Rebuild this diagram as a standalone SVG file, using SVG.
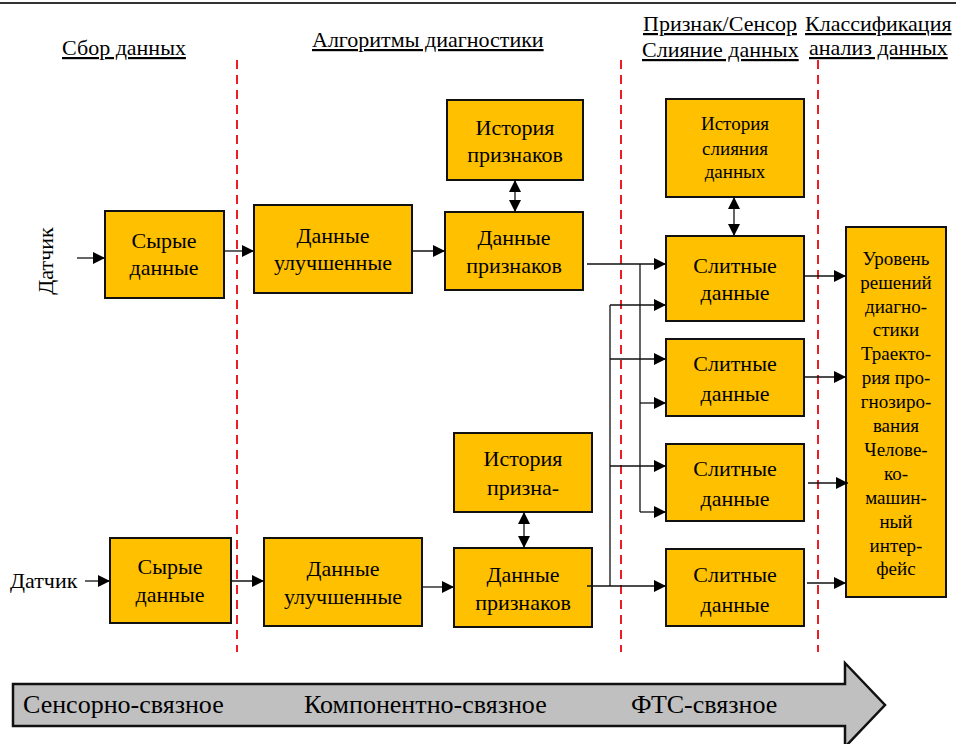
<svg xmlns="http://www.w3.org/2000/svg" width="956" height="744" viewBox="0 0 956 744">
  <style>
    .box { fill: #FFC000; stroke: #111; stroke-width: 2; }
    .t { font-family: "Liberation Serif", "Times New Roman", serif; fill: #000; text-anchor: middle; }
    .t20 { font-size: 22px; }
    .t17 { font-size: 19px; }
    .td { font-size: 19px; }
    .hdr { font-family: "Liberation Serif", "Times New Roman", serif; font-size: 22px; fill: #000; text-decoration: underline; }
    .band { font-family: "Liberation Serif", "Times New Roman", serif; font-size: 26px; fill: #000; }
    .conn { stroke: #111; stroke-width: 1.3; fill: none; }
    .sep { stroke: #ee1c24; stroke-width: 2; stroke-dasharray: 9 6; fill: none; }
  </style>
  <defs>
    <marker id="ah" viewBox="0 0 12 12" refX="12" refY="6" markerWidth="12" markerHeight="12" markerUnits="userSpaceOnUse" orient="auto-start-reverse">
      <path d="M0,0 L12,6 L0,12 z" fill="#000"/>
    </marker>
  </defs>
  <rect width="956" height="744" fill="#fff"/>
  <line x1="0" y1="3" x2="956" y2="3" stroke="#333" stroke-width="2"/>

  <!-- column headers -->
  <g id="headers">
    <text class="hdr" x="62" y="55">Сбор данных</text>
    <text class="hdr" x="312" y="47">Алгоритмы диагностики</text>
    <text class="hdr" x="643" y="31">Признак/Сенсор</text>
    <text class="hdr" x="642" y="57">Слияние данных</text>
    <text class="hdr" x="805" y="31">Классификация</text>
    <text class="hdr" x="809" y="55">анализ данных</text>
  </g>

  <!-- stage separators -->
  <g id="separators">
    <line class="sep" x1="237" y1="60" x2="237" y2="652"/>
    <line class="sep" x1="621" y1="60" x2="621" y2="652"/>
    <line class="sep" x1="818" y1="60" x2="818" y2="652"/>
  </g>

  <!-- sensor labels -->
  <text class="t t20" transform="translate(53,261) rotate(-90)">Датчик</text>
  <text class="t20" x="10" y="588" font-family="Liberation Serif, serif">Датчик</text>

  <!-- upper chain -->
  <g id="raw1"><rect class="box" x="105" y="211" width="119" height="87"/>
    <text class="t t20" x="164" y="248">Сырые</text><text class="t t20" x="164" y="275">данные</text></g>
  <g id="enh1"><rect class="box" x="254" y="205" width="158" height="88"/>
    <text class="t t20" x="333" y="243">Данные</text><text class="t t20" x="333" y="270">улучшенные</text></g>
  <g id="hist1"><rect class="box" x="447" y="100" width="136" height="80"/>
    <text class="t t20" x="515" y="135">История</text><text class="t t20" x="515" y="162">признаков</text></g>
  <g id="feat1"><rect class="box" x="445" y="212" width="138" height="78"/>
    <text class="t t20" x="514" y="245">Данные</text><text class="t t20" x="514" y="273">признаков</text></g>

  <!-- lower chain -->
  <g id="raw2"><rect class="box" x="110" y="538" width="121" height="85"/>
    <text class="t t20" x="170" y="574">Сырые</text><text class="t t20" x="170" y="602">данные</text></g>
  <g id="enh2"><rect class="box" x="264" y="538" width="158" height="88"/>
    <text class="t t20" x="343" y="576">Данные</text><text class="t t20" x="343" y="604">улучшенные</text></g>
  <g id="hist2"><rect class="box" x="454" y="433" width="138" height="79"/>
    <text class="t t20" x="523" y="466">История</text><text class="t t20" x="523" y="495">призна-</text></g>
  <g id="feat2"><rect class="box" x="454" y="548" width="138" height="79"/>
    <text class="t t20" x="523" y="582">Данные</text><text class="t t20" x="523" y="610">признаков</text></g>

  <!-- fusion -->
  <g id="fhist"><rect class="box" x="666" y="99" width="138" height="98"/>
    <text class="t t17" x="735" y="130">История</text><text class="t t17" x="735" y="155">слияния</text><text class="t t17" x="735" y="178">данных</text></g>
  <g id="fus1"><rect class="box" x="666" y="236" width="138" height="85"/>
    <text class="t t20" x="735" y="273">Слитные</text><text class="t t20" x="735" y="300">данные</text></g>
  <g id="fus2"><rect class="box" x="666" y="339" width="138" height="77"/>
    <text class="t t20" x="735" y="371">Слитные</text><text class="t t20" x="735" y="401">данные</text></g>
  <g id="fus3"><rect class="box" x="666" y="444" width="138" height="77"/>
    <text class="t t20" x="735" y="476">Слитные</text><text class="t t20" x="735" y="506">данные</text></g>
  <g id="fus4"><rect class="box" x="666" y="549" width="138" height="77"/>
    <text class="t t20" x="735" y="582">Слитные</text><text class="t t20" x="735" y="612">данные</text></g>

  <!-- decision level -->
  <g id="decision"><rect class="box" x="846" y="227" width="100" height="370"/>
    <g class="t td">
      <text x="896" y="265">Уровень</text><text x="896" y="289">решений</text><text x="896" y="313">диагно-</text>
      <text x="896" y="336">стики</text><text x="896" y="360">Траекто-</text><text x="896" y="384">рия про-</text>
      <text x="896" y="408">гнозиро-</text><text x="896" y="432">вания</text><text x="896" y="456">Челове-</text>
      <text x="896" y="480">ко-</text><text x="896" y="504">машин-</text><text x="896" y="528">ный</text>
      <text x="896" y="552">интер-</text><text x="896" y="575">фейс</text>
    </g>
  </g>

  <!-- connectors -->
  <g id="connectors" class="conn">
    <line x1="77" y1="258" x2="105" y2="258" marker-end="url(#ah)"/>
    <line x1="224" y1="251" x2="254" y2="251" marker-end="url(#ah)"/>
    <line x1="412" y1="251" x2="445" y2="251" marker-end="url(#ah)"/>
    <line x1="515" y1="180" x2="515" y2="212" marker-start="url(#ah)" marker-end="url(#ah)"/>

    <line x1="85" y1="581" x2="110" y2="581" marker-end="url(#ah)"/>
    <line x1="231" y1="581" x2="264" y2="581" marker-end="url(#ah)"/>
    <line x1="422" y1="587" x2="454" y2="587" marker-end="url(#ah)"/>
    <line x1="524" y1="512" x2="524" y2="548" marker-start="url(#ah)" marker-end="url(#ah)"/>

    <line x1="734" y1="197" x2="734" y2="236" marker-start="url(#ah)" marker-end="url(#ah)"/>

    <!-- upper feature bus -->
    <line x1="587" y1="264" x2="666" y2="264" marker-end="url(#ah)"/>
    <line x1="640" y1="264" x2="640" y2="512"/>
    <line x1="640" y1="403" x2="666" y2="403" marker-end="url(#ah)"/>
    <line x1="640" y1="512" x2="666" y2="512" marker-end="url(#ah)"/>

    <!-- lower feature bus -->
    <line x1="587" y1="586" x2="666" y2="586" marker-end="url(#ah)"/>
    <line x1="610" y1="305" x2="610" y2="586"/>
    <line x1="610" y1="305" x2="666" y2="305" marker-end="url(#ah)"/>
    <line x1="610" y1="359" x2="666" y2="359" marker-end="url(#ah)"/>
    <line x1="610" y1="466" x2="666" y2="466" marker-end="url(#ah)"/>

    <line x1="804" y1="276" x2="846" y2="276" marker-end="url(#ah)"/>
    <line x1="804" y1="377" x2="846" y2="377" marker-end="url(#ah)"/>
    <line x1="808" y1="483" x2="848" y2="483" marker-end="url(#ah)"/>
    <line x1="807" y1="583" x2="846" y2="583" marker-end="url(#ah)"/>
  </g>

  <!-- integration band -->
  <g id="band">
    <polygon points="13,684 845,684 845,663 885,705 845,747 845,726 13,726" fill="#c0c0c0" stroke="#111" stroke-width="2.5"/>
    <text class="band" x="23" y="713">Сенсорно-связное</text>
    <text class="band" x="304" y="713">Компонентно-связное</text>
    <text class="band" x="631" y="713">ФТС-связное</text>
  </g>
</svg>
